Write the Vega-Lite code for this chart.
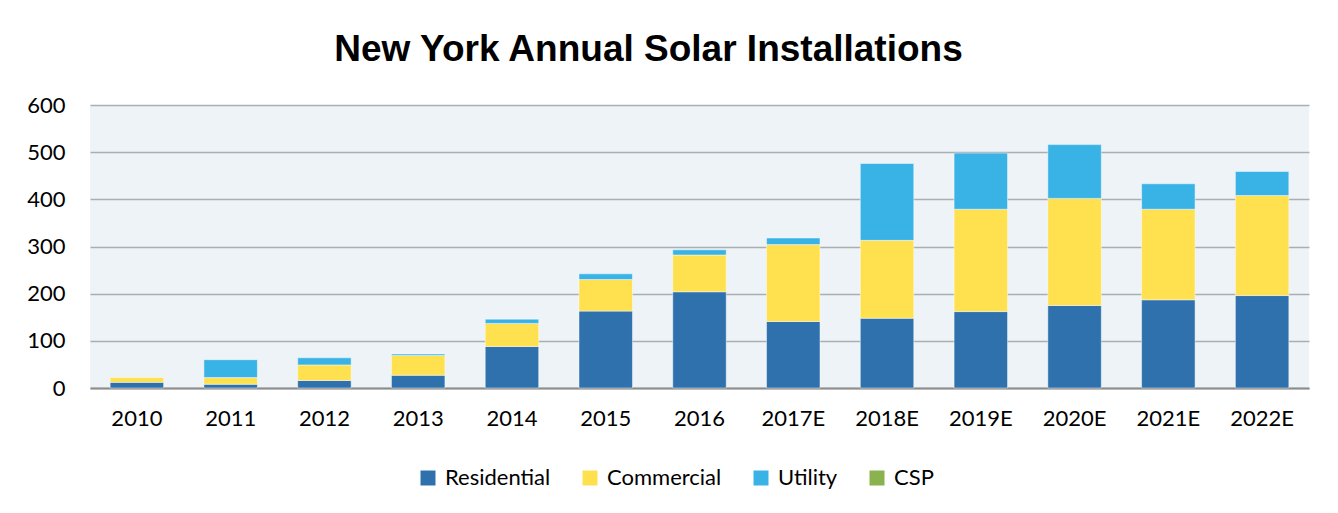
{
  "$schema": "https://vega.github.io/schema/vega-lite/v6.json",
  "autosize": {"type": "none"},
  "width": 1219,
  "height": 283,
  "padding": {"left": 90, "top": 105, "right": 29, "bottom": 125},
  "background": "#ffffff",
  "title": {
    "text": "New York Annual Solar Installations",
    "font": "Liberation Sans",
    "fontSize": 37,
    "fontWeight": "bold",
    "color": "#000000",
    "anchor": "middle",
    "dx": -51,
    "offset": 25
  },
  "config": {
    "view": {"fill": "#EEF3F7", "stroke": null},
    "font": "Lato"
  },
  "data": {
    "values": [
      {"year": "2010", "type": "Residential", "value": 12},
      {"year": "2010", "type": "Commercial", "value": 10},
      {"year": "2011", "type": "Residential", "value": 8},
      {"year": "2011", "type": "Commercial", "value": 14},
      {"year": "2011", "type": "Utility", "value": 38},
      {"year": "2012", "type": "Residential", "value": 16},
      {"year": "2012", "type": "Commercial", "value": 33},
      {"year": "2012", "type": "Utility", "value": 15},
      {"year": "2013", "type": "Residential", "value": 27},
      {"year": "2013", "type": "Commercial", "value": 42},
      {"year": "2013", "type": "Utility", "value": 3},
      {"year": "2014", "type": "Residential", "value": 88},
      {"year": "2014", "type": "Commercial", "value": 49},
      {"year": "2014", "type": "Utility", "value": 9},
      {"year": "2015", "type": "Residential", "value": 163},
      {"year": "2015", "type": "Commercial", "value": 67},
      {"year": "2015", "type": "Utility", "value": 12},
      {"year": "2016", "type": "Residential", "value": 204},
      {"year": "2016", "type": "Commercial", "value": 78},
      {"year": "2016", "type": "Utility", "value": 11},
      {"year": "2017E", "type": "Residential", "value": 141},
      {"year": "2017E", "type": "Commercial", "value": 163},
      {"year": "2017E", "type": "Utility", "value": 14},
      {"year": "2018E", "type": "Residential", "value": 148},
      {"year": "2018E", "type": "Commercial", "value": 165},
      {"year": "2018E", "type": "Utility", "value": 163},
      {"year": "2019E", "type": "Residential", "value": 162},
      {"year": "2019E", "type": "Commercial", "value": 217},
      {"year": "2019E", "type": "Utility", "value": 119},
      {"year": "2020E", "type": "Residential", "value": 175},
      {"year": "2020E", "type": "Commercial", "value": 227},
      {"year": "2020E", "type": "Utility", "value": 114},
      {"year": "2021E", "type": "Residential", "value": 187},
      {"year": "2021E", "type": "Commercial", "value": 192},
      {"year": "2021E", "type": "Utility", "value": 54},
      {"year": "2022E", "type": "Residential", "value": 196},
      {"year": "2022E", "type": "Commercial", "value": 212},
      {"year": "2022E", "type": "Utility", "value": 51}
    ]
  },
  "transform": [
    {"calculate": "indexof(['Residential', 'Commercial', 'Utility', 'CSP'], datum.type)", "as": "stackRank"}
  ],
  "mark": {"type": "bar", "stroke": "#ffffff", "strokeOpacity": 0.45, "strokeWidth": 1},
  "encoding": {
    "x": {
      "field": "year",
      "type": "nominal",
      "sort": null,
      "scale": {"paddingInner": 0.43, "paddingOuter": 0.215},
      "axis": {
        "title": null,
        "labelAngle": 0,
        "labelFont": "Lato",
        "labelFontSize": 22,
        "labelColor": "#000000",
        "labelPadding": 20,
        "ticks": false,
        "domain": true,
        "domainColor": "#8C8C8C",
        "domainWidth": 2
      }
    },
    "y": {
      "field": "value",
      "type": "quantitative",
      "stack": "zero",
      "scale": {"domain": [0, 600], "nice": false},
      "axis": {
        "title": null,
        "values": [0, 100, 200, 300, 400, 500, 600],
        "labelFont": "Lato",
        "labelFontSize": 22,
        "labelColor": "#000000",
        "labelPadding": 25,
        "ticks": false,
        "domain": false,
        "grid": true,
        "gridColor": "#ABAEB1",
        "gridWidth": 1.5
      }
    },
    "color": {
      "field": "type",
      "type": "nominal",
      "sort": ["Residential", "Commercial", "Utility", "CSP"],
      "scale": {
        "domain": ["Residential", "Commercial", "Utility", "CSP"],
        "range": ["#2E71AD", "#FFE04F", "#39B3E5", "#8AB34F"]
      },
      "legend": {
        "title": null,
        "orient": "none",
        "legendX": 327,
        "legendY": 362,
        "direction": "horizontal",
        "symbolType": "square",
        "symbolSize": 225,
        "symbolStrokeWidth": 0,
        "labelFont": "Lato",
        "labelFontSize": 22,
        "labelColor": "#000000",
        "labelOffset": 6,
        "columnPadding": 28
      }
    },
    "order": {"field": "stackRank", "type": "quantitative", "sort": "ascending"}
  }
}
